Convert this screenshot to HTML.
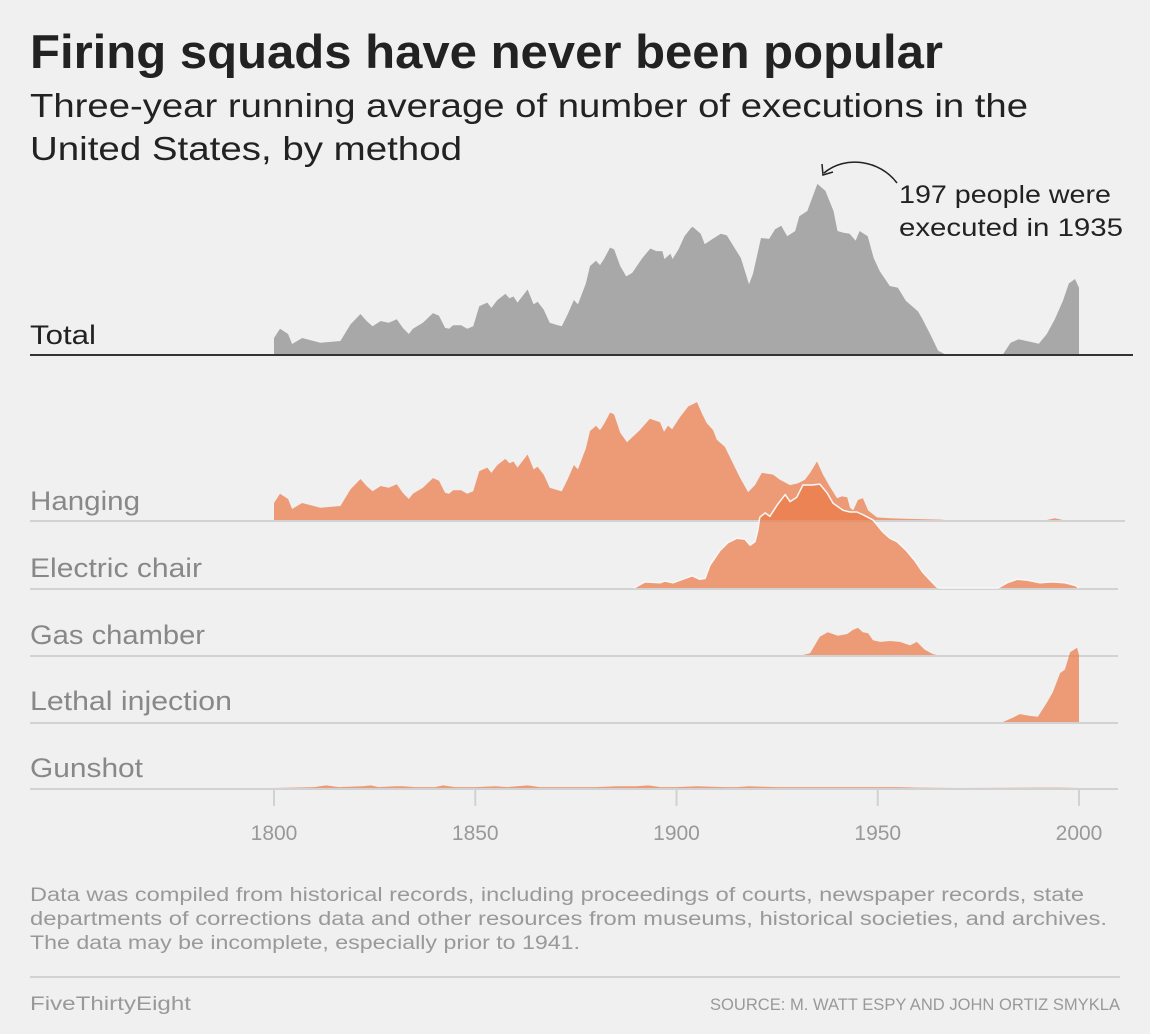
<!DOCTYPE html>
<html><head><meta charset="utf-8"><style>
body{margin:0;background:#f0f0f0;}
svg{display:block;font-family:"Liberation Sans",sans-serif;}
</style></head><body>
<svg id="chart" width="1150" height="1034" viewBox="0 0 1150 1034" xmlns="http://www.w3.org/2000/svg">
<rect width="1150" height="1034" fill="#f0f0f0"/>
<text x="30" y="68" font-size="47" font-weight="bold" fill="#222" textLength="913" lengthAdjust="spacingAndGlyphs">Firing squads have never been popular</text>
<text x="30" y="117" font-size="33" fill="#222" textLength="998" lengthAdjust="spacingAndGlyphs">Three-year running average of number of executions in the</text>
<text x="30" y="160" font-size="33" fill="#222" textLength="432" lengthAdjust="spacingAndGlyphs">United States, by method</text>
<g id="ridges"></g>
<g id="axis"></g>
<text x="30" y="344" font-size="27" fill="#222" textLength="66" lengthAdjust="spacingAndGlyphs">Total</text>
<text x="30" y="510" font-size="27" fill="#888" textLength="110" lengthAdjust="spacingAndGlyphs">Hanging</text>
<text x="30" y="577" font-size="27" fill="#888" textLength="172" lengthAdjust="spacingAndGlyphs">Electric chair</text>
<text x="30" y="644" font-size="27" fill="#888" textLength="175" lengthAdjust="spacingAndGlyphs">Gas chamber</text>
<text x="30" y="710" font-size="27" fill="#888" textLength="202" lengthAdjust="spacingAndGlyphs">Lethal injection</text>
<text x="30" y="777" font-size="27" fill="#888" textLength="113" lengthAdjust="spacingAndGlyphs">Gunshot</text>
<path d="M897,183 C880,160 845,155 824,173" fill="none" stroke="#222" stroke-width="1.5"/>
<path d="M822,164 L823,175 L833,172" fill="none" stroke="#222" stroke-width="1.5"/>
<text x="899" y="203" font-size="25" fill="#222" textLength="212" lengthAdjust="spacingAndGlyphs">197 people were</text>
<text x="899" y="236" font-size="25" fill="#222" textLength="224" lengthAdjust="spacingAndGlyphs">executed in 1935</text>
<text font-size="19" fill="#999">
<tspan x="30" y="901" textLength="1054" lengthAdjust="spacingAndGlyphs">Data was compiled from historical records, including proceedings of courts, newspaper records, state</tspan>
<tspan x="30" y="925" textLength="1077" lengthAdjust="spacingAndGlyphs">departments of corrections data and other resources from museums, historical societies, and archives.</tspan>
<tspan x="30" y="949" textLength="550" lengthAdjust="spacingAndGlyphs">The data may be incomplete, especially prior to 1941.</tspan>
</text>
<line x1="30" y1="977" x2="1120" y2="977" stroke="#c8c8c8" stroke-width="1.5"/>
<text x="30" y="1010" font-size="19" fill="#999" textLength="161" lengthAdjust="spacingAndGlyphs">FiveThirtyEight</text>
<text x="710" y="1010" font-size="17" fill="#999" textLength="410" lengthAdjust="spacingAndGlyphs">SOURCE: M. WATT ESPY AND JOHN ORTIZ SMYKLA</text>
</svg>
<script>
const totalYears=[1800,1801.5,1803.5,1804.5,1807,1811.5,1816.5,1819,1821.5,1823,1824.5,1826.5,1828.5,1830.5,1832,1833.5,1834.5,1837,1839.5,1841,1842.5,1843.5,1844.5,1846.5,1848,1849.5,1851,1853,1854,1855.5,1857.5,1858.5,1859.5,1860.5,1861.5,1863,1864.5,1865.5,1867,1868.5,1870.5,1871.5,1873,1874.5,1875.5,1877.5,1878.5,1880,1881,1882,1883.5,1884.5,1886,1887.5,1889,1891.5,1893.5,1895,1896.5,1897,1898.5,1899,1900.5,1902,1903.5,1904,1906,1907,1909,1911,1912.5,1916,1918,1919,1921,1923,1924.5,1926,1927.5,1929.5,1930.5,1932.5,1935,1937,1939,1940,1941.5,1943,1944.5,1945.5,1947.5,1949,1950.5,1953,1955,1957,1960,1961,1963,1965,1967,1981,1983,1985,1987,1990,1992,1994,1996,1997.5,1999,2000];
const totalValues=[19.5,30,24,12.6,19.5,14,16,35,47,39,33,39,37,41,31,24,30,37,48,45,31,30,34,34,30,33,56,60,54,63,70,65,67,60,66,75,58,61,52,37,34,33,47,63,58,82,102,108,103,110,123,121,102,90,94,111,122,119,119,110,116,110,121,136,145,147,139,127,133,139,137,111,81,93,134,133,144,148,136,142,159,165,196,188,165,142,140,139,131,142,136,111,96,79,77,62,50,42,24,5,0,0,14,18,16,13,24,41,62,82,87,77];
const hangingYears=[1800,1801.5,1803.5,1804.5,1807,1811.5,1816.5,1819,1821.5,1823,1824.5,1826.5,1828.5,1830.5,1832,1833.5,1834.5,1837,1839.5,1841,1842.5,1843.5,1844.5,1846.5,1848,1849.5,1851,1853,1854,1855.5,1857.5,1858.5,1859.5,1860.5,1861.5,1863,1864.5,1865.5,1867,1868.5,1870.5,1871.5,1873,1874.5,1875.5,1877.5,1878.5,1880,1881,1882,1883.5,1884.5,1886,1887.7,1890.9,1893.4,1895.9,1896.9,1897.9,1898.9,1900.9,1902.9,1905.1,1906.3,1907.5,1909.1,1910,1912,1914,1915.7,1917.8,1919.5,1921.2,1924,1925.7,1928.2,1930.2,1931.9,1933.2,1934.9,1936.4,1938.1,1939.9,1941.1,1942.4,1943.1,1943.9,1945.1,1946.3,1947.6,1949.8,1953,1956.8,1965.5,1966.7,1992,1994,1996];
const hangingValues=[19.5,30,24,12.6,19.5,14,16,35,47,39,33,39,37,41,31,24,30,37,48,45,31,30,34,34,30,33,56,60,54,63,70,65,67,60,66,75,58,61,52,37,34,33,47,63,58,82,102,108,103,110,123,121,100,89,103,116,112,101,108,104,118,130,135,122,111,103,92,84,65,49,32,40,54,52,46,40,42,46,54,67,52,38,25,27,26,14,11,23,25,11,3,2,1.5,0.5,0,0,2,0];
const electricYears=[1889.4,1892.2,1895.9,1897.1,1899.1,1902.1,1903.9,1905.8,1907.1,1908.3,1910.8,1912.8,1915,1917,1918.3,1919.5,1920.2,1920.7,1922,1923.2,1925,1927,1928.2,1929.9,1931.4,1933.7,1935.6,1937.4,1938.9,1941.4,1943.1,1944.8,1946.3,1948.8,1951.3,1953,1954.8,1957.1,1959.1,1961.2,1963,1964.7,1965.5,1979.9,1982.1,1984.6,1987.1,1990.3,1993.3,1996.5,1999,2000];
const electricValues=[0,7,6,8,6,11,14,10,11,26,43,52,57,56,49,53,66,81,86,82,95,107,99,104,118,118,119,109,97,89,87,87,84,78,64,57,53,43,32,18,9,1,0,0,6,10,9,6,7,6,3,0];
const gasYears=[1931.4,1933.2,1935.6,1937.6,1940.1,1942.4,1943.9,1945.1,1946.3,1947.6,1948.8,1950.6,1953,1955.5,1958,1959.7,1961.7,1963.7,1964.7];
const gasValues=[0,2,21,26,22,24,29,31,26,25,17,15,16,15,11,15,6,1,0];
const lethalYears=[1800,1981.1,1983.6,1985.3,1987.8,1989.8,1992,1993.5,1995.3,1996.5,1997.8,1999.5,2000];
const lethalValues=[0,0,5,9,7,6,22,34,56,60,80,85,77];
const gunshotYears=[1800,1810,1813,1816,1822,1824,1826,1830,1832,1835,1840,1842,1845,1850,1855,1858,1863,1866,1870,1880,1885,1890,1893,1896,1900,1905,1912,1915,1918,1925,1930,1935,1940,1945,1950,1955,1960,1970,1990,1995,2000];
const gunshotValues=[0,1,3,1,2,3,1,2,2,1,1,3,1,1,2,1,3,1,1,1,2,2,3,1,1,2,1,1,2,1,1,1,1,1,1,1,0.5,0,0.5,0.5,0];
const tickYears=[1800,1850,1900,1950,2000];
const tickLabels=["1800","1850","1900","1950","2000"];

const NS="http://www.w3.org/2000/svg";
function xScale(yr){return 274+(yr-1800)*4.025;}
function yScale(v,base){return base-v*0.873;}
const ridges=document.getElementById('ridges');
const axis=document.getElementById('axis');

function addLine(parent,x1,y1,x2,y2,stroke,w,name){
  const l=document.createElementNS(NS,'line');
  l.setAttribute('x1',x1);l.setAttribute('y1',y1);l.setAttribute('x2',x2);l.setAttribute('y2',y2);
  l.setAttribute('stroke',stroke);l.setAttribute('stroke-width',w);
  
  
  parent.appendChild(l);
}
function area(years,values,base,fill,opacity,topStroke,name){
  let top='';
  for(let i=0;i<years.length;i++){top+=(i?' L':'M')+xScale(years[i]).toFixed(1)+','+yScale(values[i],base).toFixed(1);}
  const d='M'+xScale(years[0]).toFixed(1)+','+base+' '+top.replace(/^M/,'L')+' L'+xScale(years[years.length-1]).toFixed(1)+','+base+' Z';
  const p=document.createElementNS(NS,'path');
  p.setAttribute('d',d);p.setAttribute('fill',fill);p.setAttribute('fill-opacity',opacity);
  
  
  ridges.appendChild(p);
  if(topStroke){
    const s=document.createElementNS(NS,'path');
    s.setAttribute('d',top);s.setAttribute('fill','none');s.setAttribute('stroke',topStroke);
    s.setAttribute('stroke-width','1.5');s.setAttribute('stroke-linejoin','round');
    
    
    ridges.appendChild(s);
  }
}
addLine(ridges,30,521,1125,521,'#d2d2d2',2,'hanging-baseline');
addLine(ridges,30,589,1118,589,'#d2d2d2',2,'electric-chair-baseline');
addLine(ridges,30,656,1118,656,'#d2d2d2',2,'gas-chamber-baseline');
addLine(ridges,30,723,1118,723,'#d2d2d2',2,'lethal-injection-baseline');
addLine(ridges,30,789,1118,789,'#d2d2d2',2,'gunshot-baseline');

area(totalYears,totalValues,355,'#a8a8a8',1,null,'total-area');
addLine(ridges,30,355,1133,355,'#333',2,'total-baseline');
area(hangingYears,hangingValues,520,'#ec7a47',0.72,null,'hanging-area');
area(electricYears,electricValues,588,'#ec7a47',0.72,'#f8f8f8','electric-chair-area');
area(gasYears,gasValues,655,'#ec7a47',0.72,null,'gas-chamber-area');
area(lethalYears,lethalValues,722,'#ec7a47',0.72,null,'lethal-injection-area');
area(gunshotYears,gunshotValues,788,'#ec7a47',0.72,null,'gunshot-area');

for(let i=0;i<tickYears.length;i++){
  const x=xScale(tickYears[i]);
  addLine(axis,x,790,x,806,'#d2d2d2',2,'x-tick-'+tickLabels[i]);
  const t=document.createElementNS(NS,'text');
  t.setAttribute('x',x);t.setAttribute('y',840);t.setAttribute('text-anchor','middle');
  t.setAttribute('font-size','21');t.setAttribute('fill','#999');
  t.textContent=tickLabels[i];
  
  
  axis.appendChild(t);
}
</script>
</body></html>
